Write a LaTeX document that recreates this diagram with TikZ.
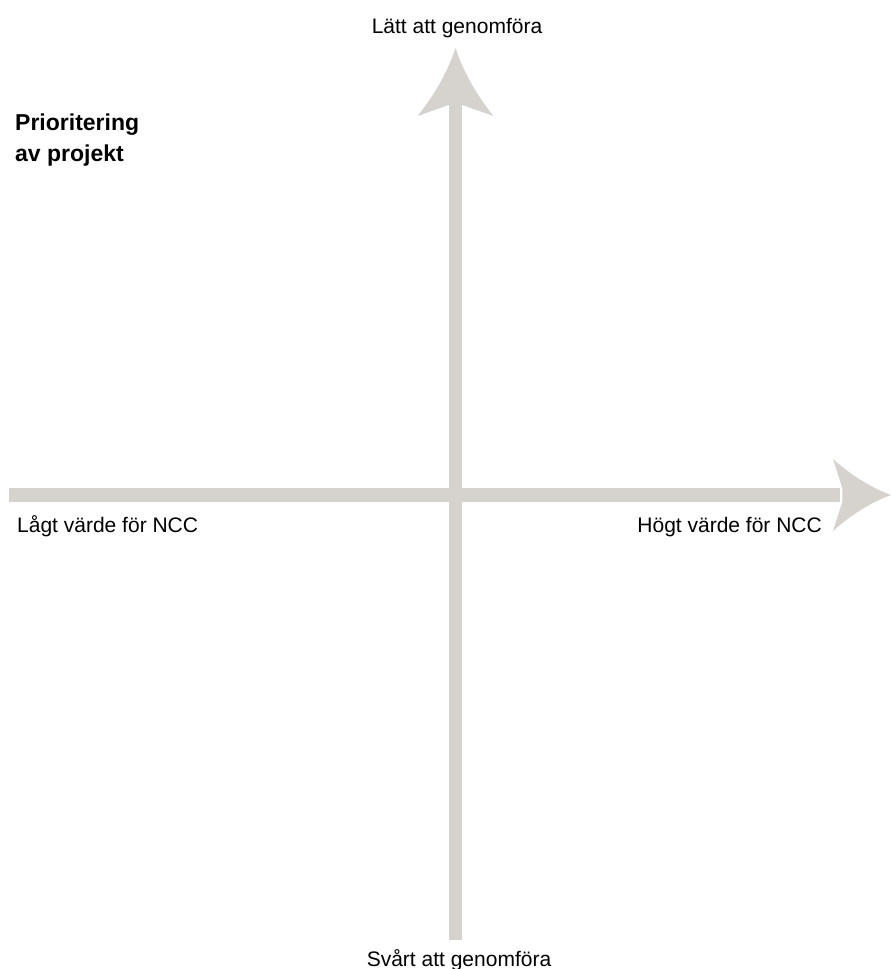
\documentclass[tikz,border=0pt]{standalone}
\usepackage{fontspec}
\setmainfont{Liberation Sans}
\definecolor{axisgray}{RGB}{214,210,205}
\tikzset{
  shaft/.style={draw=axisgray, line width=13.5pt, line cap=butt},
  lbl/.style={inner sep=0pt, font=\fontsize{21}{31}\selectfont},
  pics/axhead/.style 2 args={code={
    \fill[axisgray] (0,0) .. controls (-0.38*#1,0.22*#2) and (-0.74*#1,0.62*#2) .. (-#1,#2)
      -- (-0.84*#1,7) -- (-0.84*#1,-7) -- (-#1,-#2)
      .. controls (-0.74*#1,-0.62*#2) and (-0.38*#1,-0.22*#2) .. (0,0) -- cycle;}}
}
\begin{document}
\begin{tikzpicture}[x=1pt, y=-1pt, line join=round]
				\def\xmax{891} \def\ymax{969}
				\useasboundingbox (0,0) rectangle (\xmax,\ymax);
				% axes
				\coordinate (ytip) at (455.5,48);  \coordinate (ybot) at (455.5,940);
				\coordinate (xtip) at (891,495);   \coordinate (xleft) at (9,495);
				\draw[shaft] (ybot) -- (455.5,100);
				\draw[shaft] (xleft) -- (840,495);
				\pic[rotate=90] at (ytip) {axhead={68}{38}};
				\pic at (xtip) {axhead={58}{36}};
				% labels
				\node[lbl, anchor=base] (easy) at (457,33) {Lätt att genomföra};
				\node[lbl, anchor=base] (hard) at (459,966) {Svårt att genomföra};
				\node[lbl, anchor=base west] (low) at (17,532) {Lågt värde för NCC};
				\node[lbl, anchor=base east] (high) at (822,532) {Högt värde för NCC};
				\node[lbl, anchor=north west, align=left, font=\fontsize{23}{31}\selectfont\bfseries] (title) at (15,114) {Prioritering\\av projekt};
\end{tikzpicture}
\end{document}
